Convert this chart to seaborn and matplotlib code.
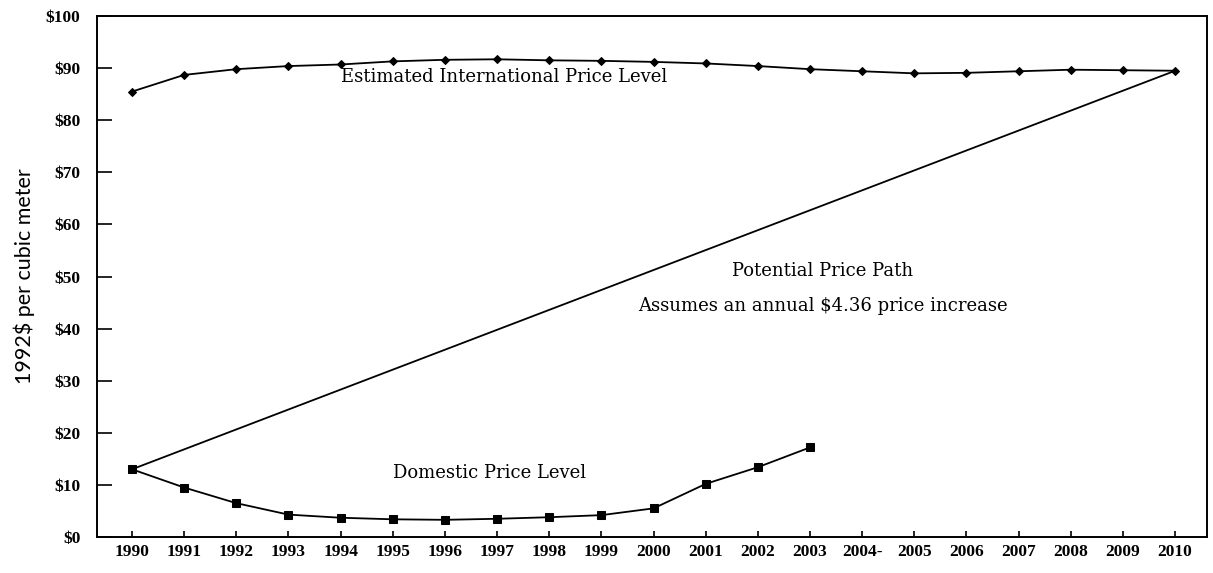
import matplotlib
matplotlib.use("Agg")
import matplotlib.pyplot as plt
import seaborn as sns
import pandas as pd

years = list(range(1990, 2011))
intl_price = [85.5, 88.7, 89.8, 90.4, 90.7, 91.3, 91.6, 91.7, 91.5, 91.4, 91.2,
              90.9, 90.4, 89.8, 89.4, 89.0, 89.1, 89.4, 89.7, 89.6, 89.5]
dom_years = list(range(1990, 2004))
dom_price = [13.0, 9.5, 6.5, 4.3, 3.7, 3.4, 3.3, 3.5, 3.8, 4.2, 5.5, 10.2, 13.4, 17.2]
path_years = [1990, 2010]
path_price = [13.0, 89.5]
y_ticks = [0, 10, 20, 30, 40, 50, 60, 70, 80, 90, 100]
y_labels = ["$" + str(v) for v in y_ticks]
x_labels = [str(y) for y in years]
x_labels[14] = "2004-"

sns.set_style("white")
plt.rcParams["font.family"] = ["Liberation Serif", "DejaVu Serif"]
plt.rcParams["text.color"] = "black"
plt.rcParams["axes.labelcolor"] = "black"
plt.rcParams["xtick.color"] = "black"
plt.rcParams["ytick.color"] = "black"

fig = plt.figure(figsize=(12.13, 5.73), dpi=100)
ax = fig.add_axes([0.080, 0.0628, 0.915, 0.9092])

df_i = pd.DataFrame({"year": years, "price": intl_price})
df_d = pd.DataFrame({"year": dom_years, "price": dom_price})
df_p = pd.DataFrame({"year": path_years, "price": path_price})

sns.lineplot(data=df_p, x="year", y="price", ax=ax, color="black", linewidth=1.3)
sns.lineplot(data=df_i, x="year", y="price", ax=ax, color="black", linewidth=1.3,
             marker="D", markersize=4.5, markeredgecolor="black", markerfacecolor="black")
sns.lineplot(data=df_d, x="year", y="price", ax=ax, color="black", linewidth=1.3,
             marker="s", markersize=6, markeredgecolor="black", markerfacecolor="black")

ax.set_xlim(1989.33, 2010.61)
ax.set_ylim(0, 100)
ax.set_xticks(years)
ax.set_xticklabels(x_labels, fontsize=12.5, fontweight="bold")
ax.set_yticks(y_ticks)
ax.set_yticklabels(y_labels, fontsize=12.5, fontweight="bold")
ax.tick_params(axis="y", left=True, direction="in", length=11, width=1.2, pad=12, color="black", labelcolor="black")
ax.tick_params(axis="x", bottom=True, direction="in", length=4, width=1.2, pad=5, color="black", labelcolor="black")
for s in ax.spines.values():
    s.set_color("black")
    s.set_linewidth(1.4)

ax.set_xlabel("")
ax.set_ylabel("1992$ per cubic meter", fontsize=15.5, family=["Lato", "DejaVu Sans"], labelpad=8, color="black")

ts = 13
tf = ["DejaVu Serif"]
ax.text(1997.14, 88.3, "Estimated International Price Level", ha="center", va="center", fontsize=ts, family=tf, color="black")
ax.text(2003.25, 51.0, "Potential Price Path", ha="center", va="center", fontsize=ts, family=tf, color="black")
ax.text(2003.25, 44.3, "Assumes an annual $4.36 price increase", ha="center", va="center", fontsize=ts, family=tf, color="black")
ax.text(1996.85, 12.3, "Domestic Price Level", ha="center", va="center", fontsize=ts, family=tf, color="black")

fig.savefig("out.png", dpi=100)
